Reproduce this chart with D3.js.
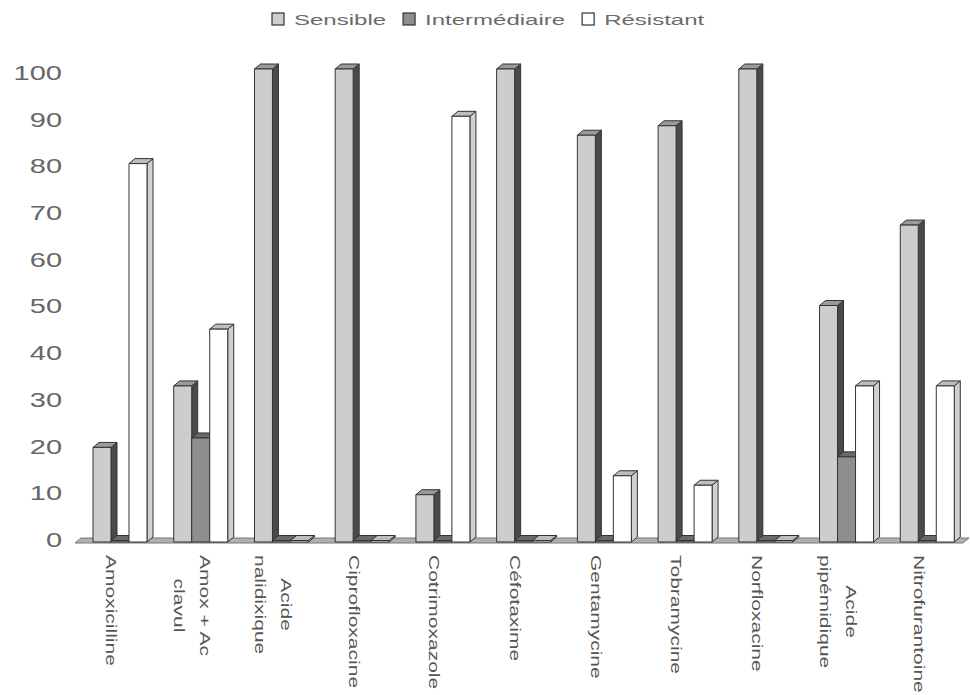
<!DOCTYPE html>
<html><head><meta charset="utf-8">
<script src="https://cdn.jsdelivr.net/npm/d3@7"></script>
<style>body{margin:0;background:#fff}svg{font-family:Arial,"Liberation Sans",sans-serif}</style>
</head><body>
<svg id="c" width="970" height="695"></svg>
<script>
const categories = ["Amoxicilline", "Amox + Ac\nclavul", "Acide\nnalidixique", "Ciprofloxacine", "Cotrimoxazole", "Céfotaxime", "Gentamycine", "Tobramycine", "Norfloxacine", "Acide\npipémidique", "Nitrofurantoine"];
const seriesNames = ["Sensible", "Intermédiaire", "Résistant"];
const sensible = [20, 33, 100, 100, 10, 100, 86, 88, 100, 50, 67];
const intermediaire = [0, 22, 0, 0, 0, 0, 0, 0, 0, 18, 0];
const resistant = [80, 45, 0, 0, 90, 0, 14, 12, 0, 33, 33];
const yTicks = [0, 10, 20, 30, 40, 50, 60, 70, 80, 90, 100];

const seriesValues = [sensible, intermediaire, resistant];
const style = {
  "Sensible": {front: "#cdcdcd", side: "#4a4a4a", top: "#9a9a9a"},
  "Intermédiaire": {front: "#8e8e8e", side: "#4a4a4a", top: "#6a6a6a"},
  "Résistant": {front: "#ffffff", side: "#d0d0d0", top: "#bdbdbd"}
};
const DX = 6, DY = 5;

const svg = d3.select("#c");
const x = d3.scaleBand().domain(d3.range(categories.length)).range([75, 963]).paddingInner(0).paddingOuter(0);
const xs = d3.scaleBand().domain(seriesNames).range([18, 72]);
const y = d3.scaleLinear().domain([0, 100]).range([542, 69]);
const yAx = d3.scaleLinear().domain([0, 100]).range([540, 73]);

function stretch(sel, f) {
  sel.each(function () {
    const w = this.getComputedTextLength();
    this.setAttribute("textLength", w * f);
    this.setAttribute("lengthAdjust", "spacingAndGlyphs");
  });
}

// floor
const x0 = x.range()[0], x1 = x.range()[1];
svg.append("path")
  .attr("d", `M${x0},${y(0)+1}L${x1},${y(0)+1}L${x1+DX},${y(0)+1-DY}L${x0+DX},${y(0)+1-DY}Z`)
  .attr("fill", "#b0b0b0").attr("stroke", "#777").attr("stroke-width", 1);

// y axis
const yg = svg.append("g").attr("transform", "translate(62,0)")
  .call(d3.axisLeft(yAx).tickValues(yTicks).tickSize(0).tickPadding(0));
yg.select(".domain").remove();
yg.selectAll("text").attr("font-size", 20).attr("fill", "#666").attr("font-family", "Arial, Liberation Sans, sans-serif");
stretch(yg.selectAll("text"), 1.45);

// bars
const bars = [];
categories.forEach((c, i) => {
  seriesNames.forEach((s, j) => {
    bars.push({i, s, v: seriesValues[j][i]});
  });
});
const bg = svg.append("g");
bars.forEach(d => {
  const bx = x(d.i) + xs(d.s), w = xs.bandwidth();
  const yb = y(0), yt = Math.min(y(d.v), yb - 1.5);
  const st = style[d.s];
  const g = bg.append("g").attr("stroke", "#333").attr("stroke-width", 1).attr("stroke-linejoin", "round");
  g.append("path").attr("d", `M${bx+w},${yb}L${bx+w+DX},${yb-DY}L${bx+w+DX},${yt-DY}L${bx+w},${yt}Z`).attr("fill", st.side);
  g.append("path").attr("d", `M${bx},${yt}L${bx+w},${yt}L${bx+w+DX},${yt-DY}L${bx+DX},${yt-DY}Z`).attr("fill", st.top);
  g.append("rect").attr("x", bx).attr("y", yt).attr("width", w).attr("height", yb - yt).attr("fill", st.front);
});

// x labels
const LS = 26;
categories.forEach((c, i) => {
  const lines = c.split("\n");
  const cx = x(i) + x.bandwidth() / 2;
  const n = lines.length;
  const ts = lines.map((ln, k) => {
    const bxl = cx - 9 + (n - 1) * 13 - k * LS;
    return svg.append("text")
      .attr("font-size", 14).attr("fill", "#555")
      .attr("transform", `translate(${bxl},555) rotate(90)`)
      .attr("x", 0).attr("y", 0).text(ln);
  });
  const lens = ts.map(t => t.node().getComputedTextLength() * 1.5);
  const maxL = d3.max(lens);
  ts.forEach((t, k) => {
    t.attr("textLength", lens[k]).attr("lengthAdjust", "spacingAndGlyphs")
     .attr("x", (maxL - lens[k]) / 2);
  });
});

// legend
const lg = svg.append("g");
let lx = 272;
seriesNames.forEach(s => {
  lg.append("rect").attr("x", lx).attr("y", 13).attr("width", 12).attr("height", 12)
    .attr("fill", style[s].front).attr("stroke", "#333").attr("stroke-width", 1.2);
  const t = lg.append("text").attr("x", lx + 22).attr("y", 25).attr("font-size", 15).attr("fill", "#6a6a6a").text(s);
  const w = t.node().getComputedTextLength() * 1.6;
  t.attr("textLength", w).attr("lengthAdjust", "spacingAndGlyphs");
  lx = lx + 22 + w + 17;
});
</script>
</body></html>
